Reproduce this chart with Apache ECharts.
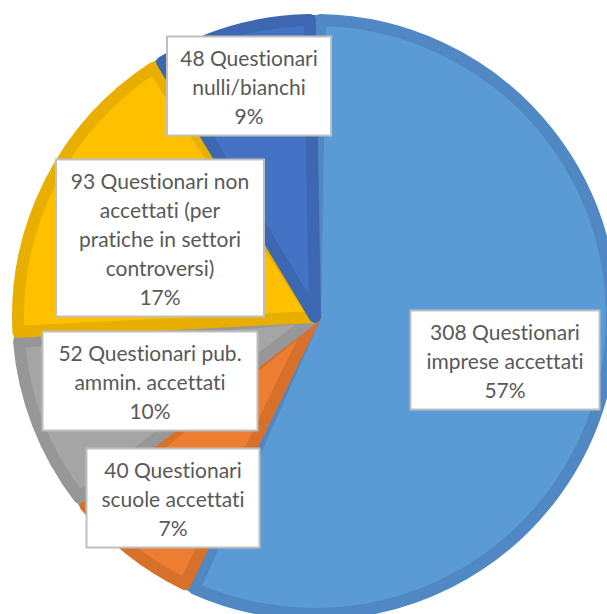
<!DOCTYPE html>
<html>
<head>
<meta charset="utf-8">
<script src="https://cdn.jsdelivr.net/npm/echarts@6/dist/echarts.min.js"></script>
<style>
html,body{margin:0;padding:0;background:#fff}
#c{width:607px;height:614px}
#c text{font-variant-ligatures:none;font-feature-settings:"liga" 0,"clig" 0,"dlig" 0}
</style>
</head>
<body>
<div id="c"></div>
<script>
// ---- data ----
const categories = [
  "308 Questionari\nimprese accettati",
  "40 Questionari\nscuole accettati",
  "52 Questionari pub.\nammin. accettati",
  "93 Questionari non\naccettati (per\npratiche in settori\ncontroversi)",
  "48 Questionari\nnulli/bianchi"
];
const values = [308, 40, 52, 93, 48];

// ---- styles ----
const fillColors = ["#5B9BD5", "#ED7D31", "#A5A5A5", "#FFC000", "#4472C4"];
const bandColors = ["#4F88C2", "#D6702B", "#979797", "#E8AE00", "#3D67B1"];
// label box centers and widths (layout only)
const labelCenters = [[505, 360], [173, 498], [150, 381], [160, 238], [249, 86]];
const labelWidths = [187, 171, 213, 206, 162];

const center = [315, 317];
const R = 302;

const chart = echarts.init(document.getElementById('c'), null, {renderer: 'svg'});

const baseData = categories.map((n, i) => ({
  name: n, value: values[i],
  itemStyle: {color: bandColors[i], borderWidth: 0}
}));
const topData = categories.map((n, i) => ({
  name: n, value: values[i],
  itemStyle: {color: fillColors[i], borderColor: bandColors[i], borderWidth: 12, borderJoin: 'round'},
  label: {width: labelWidths[i]}
}));

chart.setOption({
  animation: false,
  backgroundColor: '#ffffff',
  series: [
    {
      type: 'pie',
      center: center,
      radius: [0, R],
      startAngle: 90,
      clockwise: true,
      data: baseData,
      z: 1,
      label: {show: false},
      labelLine: {show: false},
      emphasis: {disabled: true},
      silent: true
    },
    {
      type: 'pie',
      center: center,
      radius: [0, R - 5],
      startAngle: 90,
      clockwise: true,
      padAngle: 2,
      percentPrecision: 0,
      data: topData,
      z: 2,
      label: {
        show: true,
        position: 'inside',
        formatter: '{b}\n{d}%',
        fontFamily: 'Lato',
        fontSize: 21,
        lineHeight: 29,
        color: '#595959',
        align: 'center',
        verticalAlign: 'middle',
        backgroundColor: '#ffffff',
        borderColor: '#BFBFBF',
        borderWidth: 2,
        padding: [5, 0, 5, 0],
        overflow: 'none'
      },
      labelLayout: function (p) {
        const c = labelCenters[p.dataIndex];
        return {x: c[0], y: c[1], align: 'center', verticalAlign: 'middle'};
      },
      labelLine: {show: false},
      emphasis: {disabled: true},
      silent: true
    }
  ]
});
</script>
</body>
</html>
